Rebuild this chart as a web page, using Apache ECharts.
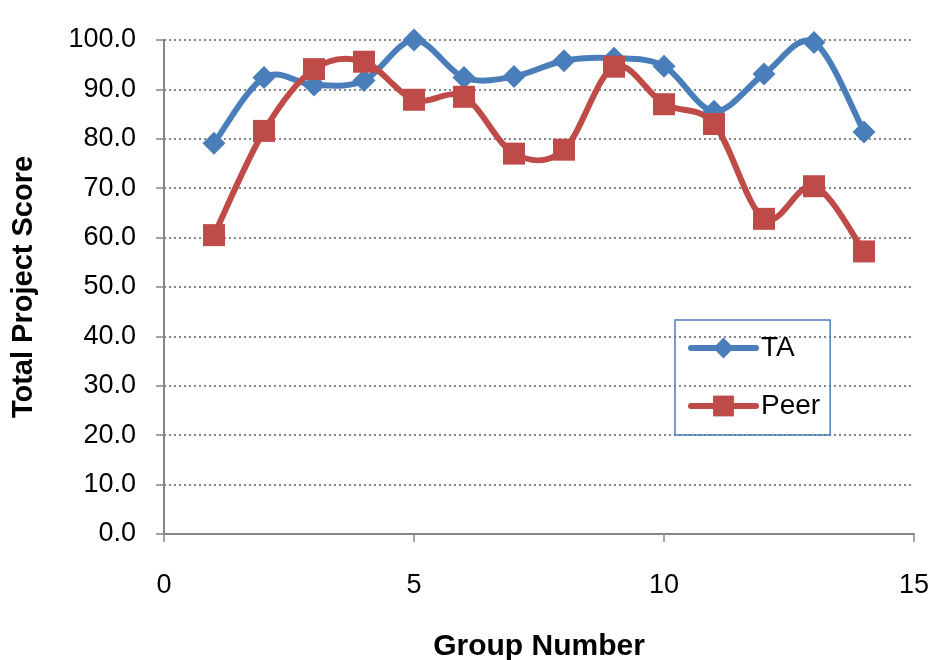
<!DOCTYPE html>
<html>
<head>
<meta charset="utf-8">
<script src="https://cdn.jsdelivr.net/npm/echarts@6/dist/echarts.min.js"></script>
<style>html,body{margin:0;padding:0;background:#fff;}#c{width:930px;height:660px;}</style>
</head>
<body>
<div id="c"></div>
<script>
const groups = [1, 2, 3, 4, 5, 6, 7, 8, 9, 10, 11, 12, 13, 14];
const taScores = [79.1, 92.4, 90.9, 91.8, 100.0, 92.4, 92.6, 95.8, 96.3, 94.7, 85.6, 93.1, 99.5, 81.4];
const peerScores = [60.5, 81.6, 94.1, 95.6, 87.9, 88.5, 77.0, 77.8, 94.6, 87.0, 83.0, 63.8, 70.4, 57.2];
const seriesNames = ['TA', 'Peer'];
const xTicks = { min: 0, max: 15, interval: 5 };
const yTicks = { min: 0, max: 100, interval: 10 };

const font = '"Liberation Sans", Arial, sans-serif';
const BLUE = '#4a7ebb';
const RED = '#be4b48';

// Smoothed segment (Catmull-Rom style Bezier) between point i and i+1, in pixel space via the axes
function smoothSegment(values, color) {
  return function (params, api) {
    const i = params.dataIndex;
    const n = values.length;
    if (i >= n - 1) return null;
    const P = k => api.coord([groups[Math.max(0, Math.min(n - 1, k))], values[Math.max(0, Math.min(n - 1, k))]]);
    const p0 = P(i - 1), p1 = P(i), p2 = P(i + 1), p3 = P(i + 2);
    const t = 1 / 6;
    return {
      type: 'bezierCurve',
      shape: {
        x1: p1[0], y1: p1[1], x2: p2[0], y2: p2[1],
        cpx1: p1[0] + (p2[0] - p0[0]) * t, cpy1: p1[1] + (p2[1] - p0[1]) * t,
        cpx2: p2[0] - (p3[0] - p1[0]) * t, cpy2: p2[1] - (p3[1] - p1[1]) * t
      },
      style: { stroke: color, fill: null, lineWidth: 6, lineCap: 'round' },
      silent: true
    };
  };
}

const chart = echarts.init(document.getElementById('c'));
chart.setOption({
  animation: false,
  grid: { left: 164, right: 16, top: 40, bottom: 126, containLabel: false, outerBoundsMode: 'none' },
  legend: {
    left: 675, top: 320,
    orient: 'vertical',
    padding: [14, 10, 15, 13],
    itemWidth: 65, itemHeight: 26, itemGap: 30,
    borderColor: BLUE, borderWidth: 1.5,
    lineStyle: { width: 6, opacity: 1, cap: 'round' },
    textStyle: { fontFamily: font, fontSize: 28, lineHeight: 26, color: '#000' },
    data: seriesNames
  },
  xAxis: {
    type: 'value', min: xTicks.min, max: xTicks.max, interval: xTicks.interval,
    name: 'Group Number', nameLocation: 'middle', nameGap: 98,
    nameTextStyle: { fontFamily: font, fontSize: 30, fontWeight: 'bold', color: '#000' },
    axisLine: { show: true, lineStyle: { color: '#868686', width: 2 } },
    axisTick: { show: true, length: 8, lineStyle: { color: '#868686', width: 1.5 } },
    axisLabel: { fontFamily: font, fontSize: 27, color: '#000', margin: 38 },
    splitLine: { show: false }
  },
  yAxis: {
    type: 'value', min: yTicks.min, max: yTicks.max, interval: yTicks.interval,
    name: 'Total Project Score', nameLocation: 'middle', nameGap: 126,
    nameTextStyle: { fontFamily: font, fontSize: 29, fontWeight: 'bold', color: '#000' },
    axisLine: { show: true, lineStyle: { color: '#868686', width: 2 } },
    axisTick: { show: true, length: 8, lineStyle: { color: '#868686', width: 1.5 } },
    axisLabel: { fontFamily: font, fontSize: 27, color: '#000', margin: 28, formatter: v => v.toFixed(1) },
    splitLine: { show: true, lineStyle: { color: '#868686', width: 2, type: [2, 3] } }
  },
  series: [
    {
      type: 'custom', z: 2, silent: true,
      renderItem: smoothSegment(taScores, BLUE),
      data: groups.map((g, i) => [g, taScores[i]])
    },
    {
      name: seriesNames[0], type: 'line', z: 3,
      data: groups.map((g, i) => [g, taScores[i]]),
      symbol: 'diamond', symbolSize: 23,
      lineStyle: { color: BLUE, width: 6, opacity: 0 },
      itemStyle: { color: BLUE }
    },
    {
      type: 'custom', z: 4, silent: true,
      renderItem: smoothSegment(peerScores, RED),
      data: groups.map((g, i) => [g, peerScores[i]])
    },
    {
      name: seriesNames[1], type: 'line', z: 5,
      data: groups.map((g, i) => [g, peerScores[i]]),
      symbol: 'rect', symbolSize: 22,
      lineStyle: { color: RED, width: 6, opacity: 0 },
      itemStyle: { color: RED }
    }
  ]
});
</script>
</body>
</html>
